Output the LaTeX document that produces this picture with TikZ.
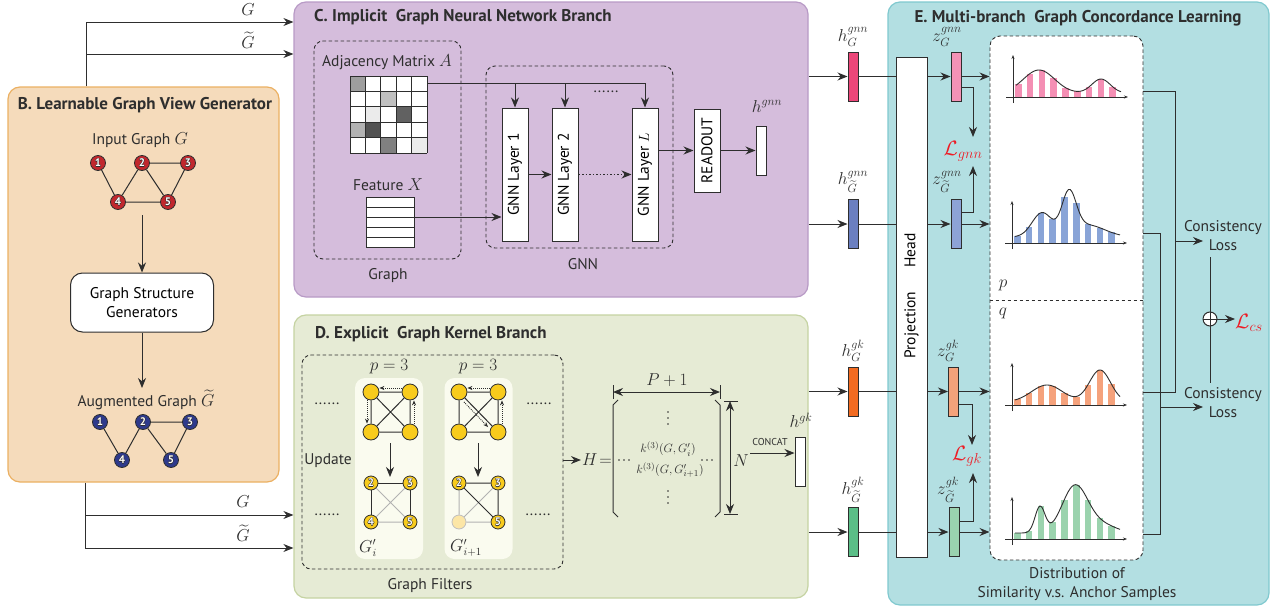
\documentclass[tikz,border=0pt]{standalone}
\usepackage[no-math]{fontspec}
\setmainfont{PT Sans}
\usepackage{amsmath}
\usetikzlibrary{arrows.meta,calc}

\definecolor{ink}{HTML}{2E2E2E}
\definecolor{bFill}{HTML}{F5DBBB}
\definecolor{bLine}{HTML}{EBB062}
\definecolor{cFill}{HTML}{D5BDDC}
\definecolor{cLine}{HTML}{B89AC6}
\definecolor{dFill}{HTML}{E6EBD5}
\definecolor{dLine}{HTML}{C5D3A2}
\definecolor{eFill}{HTML}{B3DFE2}
\definecolor{eLine}{HTML}{80C9CF}
\definecolor{cardFill}{HTML}{FAFBEF}
\definecolor{nodeRed}{HTML}{C1272D}
\definecolor{nodeBlue}{HTML}{2E3A8C}
\definecolor{nodeYel}{HTML}{F8CB1C}
\definecolor{nodePale}{HTML}{FCE6A6}
\definecolor{lossRed}{HTML}{EE1C25}
\definecolor{hPink}{HTML}{EC4679}
\definecolor{zPink}{HTML}{F492B6}
\definecolor{hBlue}{HTML}{6B7FC0}
\definecolor{zBlue}{HTML}{8DA3D6}
\definecolor{hOrange}{HTML}{F26B21}
\definecolor{zOrange}{HTML}{F4A27A}
\definecolor{hGreen}{HTML}{5BBE87}
\definecolor{zGreen}{HTML}{9AD2AF}
\definecolor{barPink}{HTML}{F48FB4}
\definecolor{barBlue}{HTML}{89A4D7}
\definecolor{barOrange}{HTML}{F5A27C}
\definecolor{barGreen}{HTML}{9BD3AE}

% white digit with a thin dark outline
\newcommand\outlnum[1]{\leavevmode
  \rlap{\kern-0.5pt\textcolor{ink}{#1}}\rlap{\kern0.5pt\textcolor{ink}{#1}}%
  \rlap{\raisebox{0.5pt}{\textcolor{ink}{#1}}}\rlap{\raisebox{-0.5pt}{\textcolor{ink}{#1}}}%
  \textcolor{white}{#1}}

% similarity histogram with its smooth envelope: origin, bar colour, envelope function
\newcommand\simchart[3]{%
  \begin{scope}[shift={#1}]
    \foreach \k in {0,...,8}{
      \pgfmathsetmacro\bx{2+11.8*\k}
      \pgfmathsetmacro\bh{#3(\bx+3.2)}
      \fill[#2] (\bx,0) rectangle ({\bx+6.5},{-\bh});
    }
    \draw[ink, line width=0.9pt, domain=3:108, samples=60, smooth] plot (\x,{-#3(\x)});
    \draw[ink, line width=0.8pt, -{Stealth[length=4pt,width=3pt]}] (0,6) -- (0,-42);
    \draw[ink, line width=0.8pt, -{Stealth[length=4pt,width=3pt]}] (-7,0) -- (115,0);
  \end{scope}}

\begin{document}
\begin{tikzpicture}[x=1pt,y=-1pt,
  font=\fontsize{15.5}{19}\selectfont,
  declare function={
    fpink(\t)=4+23*exp(-((\t-26)/22)*((\t-26)/22))+14*exp(-((\t-88)/13)*((\t-88)/13));
    fblue(\t)=6+24*exp(-((\t-30)/14)*((\t-30)/14))+40*exp(-((\t-57)/10)*((\t-57)/10))+12*exp(-((\t-75)/25)*((\t-75)/25));
    forange(\t)=3+17*exp(-((\t-35)/22)*((\t-35)/22))+32*exp(-((\t-88)/15)*((\t-88)/15));
    fgreen(\t)=6+26*exp(-((\t-28)/7)*((\t-28)/7))+47*exp(-((\t-63)/18)*((\t-63)/18))+8*exp(-((\t-90)/20)*((\t-90)/20));
  },
  inkline/.style={draw=ink, line width=1pt},
  arr/.style={draw=ink, line width=1pt, -{Stealth[length=10pt,width=8pt]}},
  dotarr/.style={draw=ink, line width=0.8pt, dash pattern=on 1pt off 1pt, -{Stealth[length=5pt,width=4pt]}},
  panel/.style={rounded corners=12pt, line width=1.2pt, inner sep=0pt},
  dashframe/.style={draw=ink, line width=0.9pt, dash pattern=on 3.5pt off 2.5pt, rounded corners=9pt, inner sep=0pt},
  whitebox/.style={draw=ink, fill=white, line width=1pt, inner sep=0pt},
  title/.style={font=\fontsize{17}{20}\selectfont\bfseries, text=ink, inner sep=0pt},
  lbl/.style={text=ink, inner sep=0pt, align=center},
  mlbl/.style={text=ink, inner sep=0pt, font=\fontsize{16}{18}\selectfont},
  vlbl/.style={text=ink, inner sep=0pt, font=\fontsize{18.5}{20}\selectfont},
  loss/.style={text=lossRed, inner sep=0pt, font=\fontsize{22}{24}\selectfont},
  vec/.style={draw=ink, line width=1pt, minimum width=10pt, minimum height=49pt, inner sep=0pt},
  vtx/.style={circle, draw=ink, line width=0.8pt, minimum size=15pt, inner sep=0pt, font=\fontsize{11}{11}\selectfont\bfseries},
  yvtx/.style={vtx, fill=nodeYel, minimum size=16pt},
  edge/.style={draw=ink, line width=1pt},
  faint/.style={draw=black!30, line width=1pt},
  card/.style={fill=cardFill, rounded corners=10pt, minimum width=68pt, minimum height=181pt, inner sep=0pt},
  dotmark/.style={fill=ink},
]
\useasboundingbox (0,0) rectangle (1278,613);

% ---------------- panels ----------------
\node[panel, draw=bLine, fill=bFill, minimum width=271, minimum height=395] (pB) at (143.5,284.5) {};
\node[panel, draw=cLine, fill=cFill, minimum width=514, minimum height=295] (pC) at (551,149.5) {};
\node[panel, draw=dLine, fill=dFill, minimum width=514, minimum height=283] (pD) at (551,456.5) {};
\node[panel, draw=eLine, fill=eFill, minimum width=381, minimum height=603] (pE) at (1078.5,303.5) {};

% ---------------- views sent to the two branches ----------------
\coordinate (topG) at (86,22);
\coordinate (topGt) at (86,54);
\draw[arr] (pB.north -| topG) -- (topG) -- (topG -| pC.west);
\draw[arr] (topGt) -- (topGt -| pC.west);
\node[vlbl] (labTopG) at (248,10) {$G$};
\node[vlbl] (labTopGt) at (248,40) {$\widetilde{G}$};

\coordinate (botG) at (85,515);
\coordinate (botGt) at (85,548);
\draw[arr] (pB.south -| botGt) -- (botGt) -- (botGt -| pD.west);
\draw[arr] (botG) -- (botG -| pD.west);
\node[vlbl] (labBotG) at (243,502) {$G$};
\node[vlbl] (labBotGt) at (243,533) {$\widetilde{G}$};

% ---------------- B. view generator ----------------
\node[title] (tB) at (145,105) {B. Learnable Graph View Generator};
\node[lbl] (tIn) at (140,140) {Input Graph \fontsize{17}{19}\selectfont$G$};
\node[vtx, fill=nodeRed] (r1) at (98,163) {\outlnum{1}};
\node[vtx, fill=nodeRed] (r2) at (142,163) {\outlnum{2}};
\node[vtx, fill=nodeRed] (r3) at (188,163) {\outlnum{3}};
\node[vtx, fill=nodeRed] (r4) at (118,202) {\outlnum{4}};
\node[vtx, fill=nodeRed] (r5) at (168,202) {\outlnum{5}};
\draw[edge] (r1)--(r4) (r4)--(r2) (r2)--(r3) (r2)--(r5) (r3)--(r5) (r4)--(r5);

\node[whitebox, rounded corners=12pt, minimum width=143, minimum height=59, align=center] (gsg) at (142,302.5) {Graph Structure\\Generators};
\coordinate (inTail) at (142,215);
\coordinate (augHead) at (142,388);
\draw[arr] (inTail) -- (gsg.north);
\draw[arr] (gsg.south) -- (augHead);

\node[lbl] (tAug) at (146,400) {Augmented Graph \fontsize{17}{19}\selectfont$\widetilde{G}$};
\node[vtx, fill=nodeBlue] (u1) at (100,422) {\outlnum{1}};
\node[vtx, fill=nodeBlue] (u2) at (143,422) {\outlnum{2}};
\node[vtx, fill=nodeBlue] (u3) at (190,422) {\outlnum{3}};
\node[vtx, fill=nodeBlue] (u4) at (122,460) {\outlnum{4}};
\node[vtx, fill=nodeBlue] (u5) at (171,460) {\outlnum{5}};
\draw[edge] (u1)--(u4) (u4)--(u2) (u2)--(u3) (u2)--(u5) (u3)--(u5);

% ---------------- C. GNN branch ----------------
\node[title, anchor=west] (tC) at (314,17) {C. Implicit\ \ Graph Neural Network Branch};
\node[dashframe, minimum width=147, minimum height=218] (graphbox) at (387.5,150) {};
\node[lbl] (tGraph) at (388,276) {Graph};
\node[lbl] (tAdj) at (387,62) {Adjacency Matrix \fontsize{17}{19}\selectfont$A$};

\node[fill=white, inner sep=0pt, minimum width=77, minimum height=77] (adj) at (388.5,114.5) {};
\foreach \r/\c/\g in {1/1/38, 2/3/25, 3/2/8, 3/4/62, 4/1/30, 4/2/68, 5/3/50, 5/5/8}{
  \fill[black!\g] ({350+15.4*(\c-1)},{76+15.4*(\r-1)}) rectangle ++(15.4,15.4);
}
\foreach \i in {0,...,5}{
  \draw[ink, line width=1pt] ({350+15.4*\i},76) -- ({350+15.4*\i},153);
  \draw[ink, line width=1pt] (350,{76+15.4*\i}) -- (427,{76+15.4*\i});
}

\node[lbl] (tFeat) at (388,185) {Feature \fontsize{17}{19}\selectfont$X$};
\node[whitebox, minimum width=48, minimum height=50] (feat) at (390,222) {};
\foreach \i in {1,...,4}{
  \draw[ink, line width=1pt] (366,{197+10*\i}) -- (414,{197+10*\i});
}

\node[dashframe, minimum width=187, minimum height=182] (gnnbox) at (579.5,157) {};
\node[lbl] (tGNN) at (583,264) {GNN};
\node[whitebox, minimum width=26, minimum height=133] (L1) at (515,174.5) {\rotatebox{90}{GNN Layer 1}};
\node[whitebox, minimum width=26, minimum height=133] (L2) at (565,174.5) {\rotatebox{90}{GNN Layer 2}};
\node[whitebox, minimum width=26, minimum height=133] (LL) at (645,174.5) {\rotatebox{90}{GNN Layer $L$}};
\node[whitebox, minimum width=26, minimum height=83] (ro) at (707,150.5) {\rotatebox{90}{READOUT}};
\node[vec, fill=white] (hg) at (761,150.5) {};
\node[vlbl] (thg) at (767,106) {$h^{gnn}$};

\coordinate (bus) at (427,83);
\draw[arr] (bus) -| (LL.north);
\draw[arr] (L1.north |- bus) -- (L1.north);
\draw[arr] (L2.north |- bus) -- (L2.north);
\node[lbl] (busdots) at (606,92) {......};
\draw[arr] ([yshift=5pt]feat.east) -- ([yshift=5pt]feat.east -| L1.west);
\draw[arr] (L1.east) -- (L2.west);
\draw[arr, dash pattern=on 1.5pt off 2pt] (L2.east) -- (LL.west);
\draw[arr] (LL.east |- ro.west) -- (ro.west);
\draw[arr] (ro.east) -- (hg.west);

% ---------------- D. graph kernel branch ----------------
\node[title, anchor=west] (tD) at (315,334) {D. Explicit\ \ Graph Kernel Branch};
\node[dashframe, minimum width=261, minimum height=214] (filt) at (432.5,462) {};
\node[lbl] (tFilt) at (430,586) {Graph Filters};
\node[lbl] (tUpd) at (328,461) {Update};
\node[lbl] (dots1) at (327,404) {......};
\node[lbl] (dots2) at (327,515) {......};
\node[lbl] (dots3) at (539,404) {......};
\node[lbl] (dots4) at (538,515) {......};

\node[card] (card1) at (389,468.5) {};
\node[card] (card2) at (478.5,468.5) {};
\node[mlbl] (tp1) at (389,367) {$p=3$};
\node[mlbl] (tp2) at (478,367) {$p=3$};

% card 1: walk on the top graph, filtered graph below
\node[yvtx] (a1) at (371,392) {};
\node[yvtx] (a2) at (410,392) {};
\node[yvtx] (a3) at (371,432) {};
\node[yvtx] (a4) at (410,432) {};
\draw[edge] (a1)--(a2) (a2)--(a4) (a4)--(a3) (a3)--(a1) (a1)--(a4) (a2)--(a3);
\draw[dotarr] ([yshift=4pt]a2.west) -- ([yshift=4pt]a1.east);
\draw[dotarr] ([xshift=-4pt]a1.south) -- ([xshift=-4pt]a3.north);
\draw[dotarr] ([xshift=4pt]a4.north) -- ([xshift=4pt]a2.south);
\coordinate (dA1) at (390,443);
\coordinate (dA2) at (390,477);
\draw[arr] (dA1) -- (dA2);
\node[vtx, fill=nodeYel, minimum size=14pt] (c2) at (371,483) {\outlnum{2}};
\node[vtx, fill=nodeYel, minimum size=14pt] (c3) at (410,483) {\outlnum{3}};
\node[vtx, fill=nodeYel, minimum size=14pt] (c4) at (371,522) {\outlnum{4}};
\node[vtx, fill=nodeYel, minimum size=14pt] (c5) at (410,522) {\outlnum{5}};
\draw[faint] (c4)--(c5) (c2)--(c5) (c3)--(c4);
\draw[edge] (c2)--(c3) (c2)--(c4) (c3)--(c5);
\node[mlbl] (tGi) at (368,548) {$G'_i$};

% card 2
\node[yvtx] (b1) at (459,392) {};
\node[yvtx] (b2) at (498,392) {};
\node[yvtx] (b3) at (459,432) {};
\node[yvtx] (b4) at (498,432) {};
\draw[edge] (b1)--(b2) (b2)--(b4) (b4)--(b3) (b3)--(b1) (b1)--(b4) (b2)--(b3);
\draw[dotarr] ([yshift=4pt]b2.west) -- ([yshift=4pt]b1.east);
\draw[dotarr] ([xshift=-1pt,yshift=-4pt]b1.south east) -- ([xshift=-4pt,yshift=-1pt]b4.north west);
\draw[dotarr] ([xshift=4pt]b4.north) -- ([xshift=4pt]b2.south);
\coordinate (dB1) at (478,443);
\coordinate (dB2) at (478,477);
\draw[arr] (dB1) -- (dB2);
\node[vtx, fill=nodeYel, minimum size=14pt] (d2) at (459,483) {\outlnum{2}};
\node[vtx, fill=nodeYel, minimum size=14pt] (d3) at (498,483) {\outlnum{3}};
\node[vtx, fill=nodePale, draw=black!25, minimum size=14pt] (d4) at (459,522) {};
\node[vtx, fill=nodeYel, minimum size=14pt] (d5) at (498,522) {\outlnum{5}};
\draw[faint] (d2)--(d4) (d3)--(d4) (d4)--(d5);
\draw[edge] (d2)--(d3) (d3)--(d5) (d2)--(d5);
\node[mlbl] (tGi1) at (466,548) {$G'_{i+1}$};

% kernel matrix H
\node[mlbl, font=\fontsize{17}{19}\selectfont] (hEq) at (597,460) {$H\!=$};
\draw[arr, shorten >=1pt] (filt.east |- hEq.west) -- (hEq.west);
\draw[inkline] (618,400) -- (613,405) -- (613,512) -- (618,517);
\draw[inkline] (715,400) -- (720,405) -- (720,512) -- (715,517);
\coordinate (pL) at (613,392);
\coordinate (pR) at (720,392);
\draw[inkline] (613,385) -- (613,399) (720,385) -- (720,399);
\draw[inkline, {Stealth[length=10pt,width=8pt]}-{Stealth[length=10pt,width=8pt]}] (pL) -- (pR);
\node[mlbl] (tP) at (667,380) {$P+1$};
\coordinate (nT) at (730,401);
\coordinate (nB) at (730,514);
\draw[inkline] (724,401) -- (738,401) (724,514) -- (738,514);
\draw[inkline, {Stealth[length=10pt,width=8pt]}-{Stealth[length=10pt,width=8pt]}] (nT) -- (nB);
\node[mlbl, font=\fontsize{17}{19}\selectfont] (tN) at (741,461) {$N$};
% elided rows and columns of H
\foreach \yy in {412,418,424, 491,497,503}{ \fill[dotmark] (668,\yy) circle (0.9); }
\foreach \xx in {619,624,629, 702,707,712}{ \fill[dotmark] (\xx,460) circle (0.9); }
\node[mlbl, font=\fontsize{13}{15}\selectfont] (k1) at (668,449) {$k^{(3)}(G,G'_i)$};
\node[mlbl, font=\fontsize{13}{15}\selectfont] (k2) at (670,470) {$k^{(3)}(G,G'_{i+1})$};

\node[lbl, font=\fontsize{10}{12}\selectfont] (tcat) at (770,442) {CONCAT};
\node[vec, fill=white] (hk) at (800,461.5) {};
\node[vlbl] (thk) at (801,420) {$h^{gk}$};
\coordinate (catTail) at (750,453);
\draw[arr] (catTail) -- (catTail -| hk.west);

% ---------------- E. concordance learning ----------------
\node[title] (tE) at (1078,18) {E. Multi-branch\ \ Graph Concordance Learning};
\node[whitebox, minimum width=31, minimum height=500] (proj) at (911.5,307) {\rotatebox{90}{\kern22pt Projection\hspace{24pt}Head}};

\node[vec, fill=hPink] (hG1) at (853,76.5) {};
\node[vec, fill=hBlue] (hG2) at (853,224) {};
\node[vec, fill=hOrange] (hK1) at (853,391.5) {};
\node[vec, fill=hGreen] (hK2) at (853,532) {};
\node[vec, fill=zPink] (zG1) at (956,76.5) {};
\node[vec, fill=zBlue] (zG2) at (956,224) {};
\node[vec, fill=zOrange] (zK1) at (953.5,391.5) {};
\node[vec, fill=zGreen] (zK2) at (954,532) {};

\node[vlbl] (thG1) at (853,37) {$h_G^{gnn}$};
\node[vlbl] (thG2) at (853,182) {$h_{\widetilde{G}}^{gnn}$};
\node[vlbl] (thK1) at (853,351) {$h_G^{gk}$};
\node[vlbl] (thK2) at (853,490) {$h_{\widetilde{G}}^{gk}$};
\node[vlbl] (tzG1) at (947,37) {$z_G^{gnn}$};
\node[vlbl] (tzG2) at (947,182) {$z_{\widetilde{G}}^{gnn}$};
\node[vlbl] (tzK1) at (948,351) {$z_G^{gk}$};
\node[vlbl] (tzK2) at (948,490) {$z_{\widetilde{G}}^{gk}$};

\node[dashframe, fill=white, rounded corners=10pt, minimum width=153, minimum height=524] (dist) at (1066.5,298) {};
\coordinate (divY) at (0,300);
\draw[draw=ink, line width=0.9pt, dash pattern=on 3.5pt off 2.5pt] (dist.west |- divY) -- (dist.east |- divY);
\node[vlbl] (tpp) at (1003,285) {$p$};
\node[vlbl] (tqq) at (1003,313) {$q$};

\foreach \h/\z in {hG1/zG1, hG2/zG2, hK1/zK1, hK2/zK2}{
  \draw[arr] (pC.east |- \h.west) -- (\h.west);
  \draw[inkline] (\h.east) -- (\h.east -| proj.west);
  \draw[arr] (proj.east |- \z.west) -- (\z.west);
  \draw[arr] (\z.east) -- (\z.east -| dist.west);
}

\node[loss] (Lgnn) at (963,151) {$\mathcal{L}_{gnn}$};
\node[loss] (Lgk) at (967,456) {$\mathcal{L}_{gk}$};
\coordinate (lgA) at (973,137);
\coordinate (lgB) at (973,166);
\coordinate (lkA) at (972,445);
\coordinate (lkB) at (973,473);
\draw[arr] ([yshift=-10.5pt]zG1.east) -| (lgA);
\draw[arr] ([yshift=12pt]zG2.east) -| (lgB);
\draw[arr] ([yshift=-12.5pt]zK1.east) -| (lkA);
\draw[arr] ([yshift=11pt]zK2.east) -| (lkB);

\simchart{(1013,97)}{barPink}{fpink}
\simchart{(1012,243)}{barBlue}{fblue}
\simchart{(1012,405)}{barOrange}{forange}
\simchart{(1012,539)}{barGreen}{fgreen}

% pairing p and q distributions into the consistency losses
\coordinate (rowPink) at (1175,91);
\coordinate (rowOrange) at (1175,392);
\coordinate (rowBlue) at (1160,233);
\coordinate (rowGreen) at (1160,534);
\draw[inkline] (dist.east |- rowPink) -- (rowPink) -- (rowOrange) -- (dist.east |- rowOrange);
\draw[inkline] (dist.east |- rowBlue) -- (rowBlue) -- (rowGreen) -- (dist.east |- rowGreen);

\node[lbl] (cl1) at (1223,236) {Consistency\\Loss};
\node[lbl] (cl2) at (1223,403) {Consistency\\Loss};
\coordinate (jA) at (1175,241);
\coordinate (jB) at (1160,407);
\draw[arr] (jA) -- (jA -| 1203,0);
\draw[arr] (jB) -- (jB -| 1203,0);

\coordinate (sumTop) at (1210,257);
\coordinate (sumBot) at (1210,383);
\draw[inkline] (sumTop) -- (sumBot);
\node[circle, draw=ink, fill=white, line width=1pt, minimum size=14pt, inner sep=0pt] (oplus) at (1210,319) {};
\draw[inkline] (oplus.north) -- (oplus.south) (oplus.west) -- (oplus.east);
\node[loss, anchor=west] (Lcs) at (1235,323) {$\mathcal{L}_{cs}$};
\draw[arr] (oplus.east) -- (Lcs.west |- oplus.east);

\node[lbl] (tDist) at (1077,584) {Distribution of\\Similarity v.s. Anchor Samples};

\end{tikzpicture}
\end{document}
